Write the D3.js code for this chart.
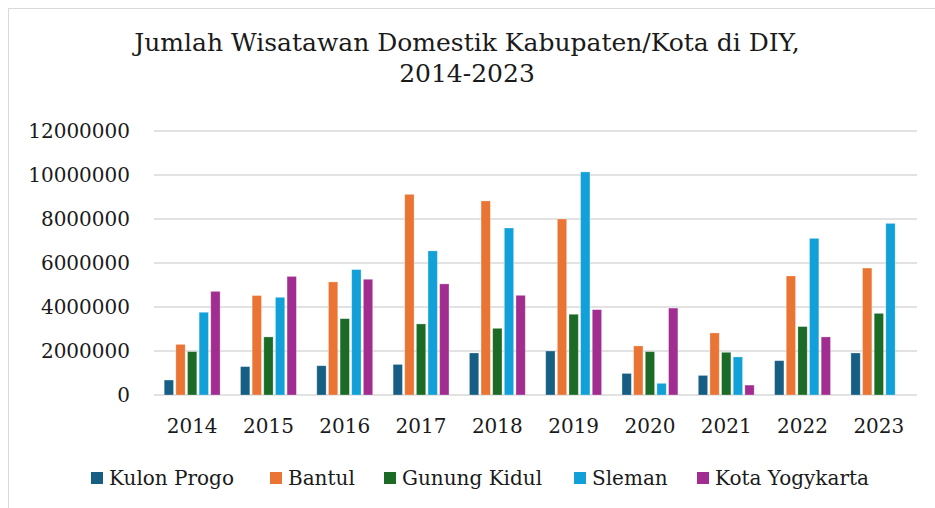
<!DOCTYPE html>
<html>
<head>
<meta charset="utf-8">
<script src="https://cdn.jsdelivr.net/npm/d3@7"></script>
<style>
  html, body { margin: 0; padding: 0; background: #fff; }
  svg { display: block; }
  text { font-family: "DejaVu Serif", "Liberation Serif", serif; fill: #1a1a1a; }
</style>
</head>
<body>
<svg id="chart" width="935" height="508"></svg>
<script>
// Domestic tourist counts per regency/city in DIY, 2014-2023
const years = ["2014","2015","2016","2017","2018","2019","2020","2021","2022","2023"];
const seriesNames = ["Kulon Progo","Bantul","Gunung Kidul","Sleman","Kota Yogykarta"];
const seriesColors = ["#175e84","#e97434","#1b6b26","#11a0d7","#a12d90"];

const kulonProgo    = [680000,1290000,1330000,1390000,1910000,2000000,980000,890000,1560000,1910000];
const bantul        = [2300000,4520000,5140000,9120000,8820000,8000000,2230000,2820000,5410000,5770000];
const gunungKidul   = [1970000,2640000,3470000,3230000,3030000,3670000,1970000,1940000,3110000,3710000];
const sleman        = [3760000,4440000,5700000,6550000,7590000,10140000,530000,1730000,7120000,7800000];
const kotaYogyakarta= [4710000,5390000,5260000,5050000,4530000,3880000,3950000,450000,2640000,null];

const seriesValues = [kulonProgo, bantul, gunungKidul, sleman, kotaYogyakarta];
const yTicks = [0,2000000,4000000,6000000,8000000,10000000,12000000];

const svg = d3.select("#chart");

// chart frame
svg.append("rect")
  .attr("x", 8.5).attr("y", 8.5)
  .attr("width", 1000).attr("height", 1000)
  .attr("fill", "none").attr("stroke", "#d9d9d9").attr("stroke-width", 1);

const plot = { left: 154, right: 917, top: 131, bottom: 395 };

const x0 = d3.scaleBand().domain(years).range([plot.left, plot.right]).padding(0);
const bw = x0.bandwidth();
const x1 = d3.scaleBand().domain(seriesNames)
  .range([bw * 0.1339, bw * 0.8661]).paddingInner(0.2).paddingOuter(0);
const y = d3.scaleLinear().domain([0, 12000000]).range([plot.bottom, plot.top]);

// gridlines
svg.append("g")
  .selectAll("line").data(yTicks).join("line")
  .attr("x1", plot.left).attr("x2", plot.right)
  .attr("y1", d => y(d)).attr("y2", d => y(d))
  .attr("stroke", "#d9d9d9").attr("stroke-width", 1.5);

// y tick labels
svg.append("g")
  .selectAll("text").data(yTicks).join("text")
  .attr("x", 130).attr("y", d => y(d))
  .attr("dy", "0.36em")
  .attr("text-anchor", "end")
  .attr("font-size", 20)
  .text(d => d3.format("d")(d));

// bars
const groups = svg.append("g")
  .selectAll("g").data(years).join("g")
  .attr("transform", d => `translate(${x0(d)},0)`);

groups.selectAll("rect")
  .data((yr, i) => seriesNames.map((s, k) => ({ s, k, v: seriesValues[k][i] })).filter(d => d.v != null))
  .join("rect")
  .attr("x", d => x1(d.s))
  .attr("width", x1.bandwidth())
  .attr("y", d => y(d.v))
  .attr("height", d => y(0) - y(d.v))
  .attr("fill", d => seriesColors[d.k])
  .attr("stroke", "#fff").attr("stroke-opacity", 0.35).attr("stroke-width", 0.8);

// x labels
svg.append("g")
  .selectAll("text").data(years).join("text")
  .attr("x", d => x0(d) + bw / 2)
  .attr("y", 426).attr("dy", "0.36em")
  .attr("text-anchor", "middle")
  .attr("font-size", 20)
  .text(d => d);

// title
const title = svg.append("text")
  .attr("x", 467).attr("y", 42)
  .attr("text-anchor", "middle")
  .attr("font-size", 25);
title.append("tspan").attr("x", 467).attr("dy", "0.36em")
  .text("Jumlah Wisatawan Domestik Kabupaten/Kota di DIY,");
title.append("tspan").attr("x", 467).attr("dy", "1.24em")
  .text("2014-2023");

// legend
const legendX = [91, 270, 384, 574, 697];
const legend = svg.append("g")
  .selectAll("g").data(seriesNames).join("g")
  .attr("transform", (d, i) => `translate(${legendX[i]},478)`);
legend.append("rect")
  .attr("x", 0).attr("y", -6).attr("width", 12).attr("height", 12)
  .attr("fill", (d, i) => seriesColors[i]);
legend.append("text")
  .attr("x", 18).attr("y", 0).attr("dy", "0.36em")
  .attr("font-size", 20)
  .text(d => d);
</script>
</body>
</html>
